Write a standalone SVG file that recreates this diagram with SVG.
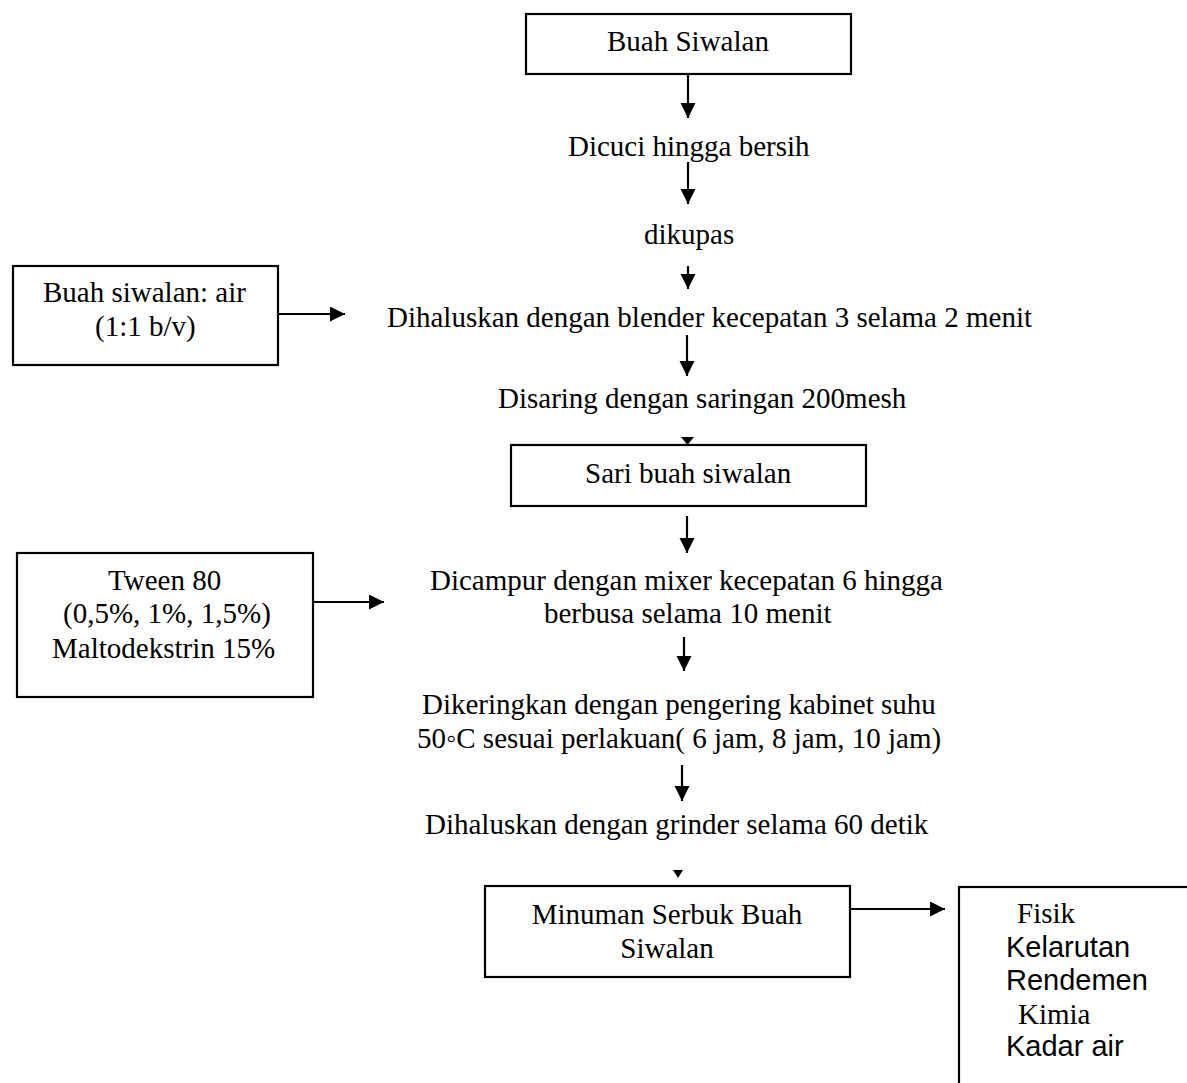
<svg xmlns="http://www.w3.org/2000/svg" width="1187" height="1083" viewBox="0 0 1187 1083">
<style>
.box{fill:#fff;stroke:#000;stroke-width:2.2}
.t{font-family:"Liberation Serif","Times New Roman",serif;font-size:29px;fill:#000}
.s{font-family:"Liberation Sans",Arial,sans-serif;font-size:29px;fill:#000}
.c{stroke:#000;stroke-width:2.2;fill:none}
.h{fill:#000;stroke:none}
</style>
<defs>
<marker id="ah" markerUnits="userSpaceOnUse" markerWidth="16" markerHeight="16" refX="15" refY="7.5" orient="auto">
<path d="M0,0 L15,7.5 L0,15 z" fill="#000"/>
</marker>
</defs>
<rect width="1187" height="1083" fill="#fff"/>

<g id="connectors">
<line class="c" x1="688" y1="74" x2="688" y2="118" marker-end="url(#ah)"/>
<line class="c" x1="688" y1="162" x2="688" y2="204" marker-end="url(#ah)"/>
<line class="c" x1="688" y1="266" x2="688" y2="289" marker-end="url(#ah)"/>
<line class="c" x1="278" y1="314" x2="345" y2="314" marker-end="url(#ah)"/>
<line class="c" x1="687" y1="335" x2="687" y2="376" marker-end="url(#ah)"/>
<polygon class="h" points="681,437 694,437 687.5,445"/>
<line class="c" x1="687" y1="516" x2="687" y2="553" marker-end="url(#ah)"/>
<line class="c" x1="309" y1="602" x2="384" y2="602" marker-end="url(#ah)"/>
<line class="c" x1="684" y1="637" x2="684" y2="671" marker-end="url(#ah)"/>
<line class="c" x1="682" y1="765" x2="682" y2="801" marker-end="url(#ah)"/>
<polygon class="h" points="673,870 683,870 678,878"/>
<line class="c" x1="850" y1="909" x2="945" y2="909" marker-end="url(#ah)"/>
</g>

<g id="n1">
<rect class="box" x="526" y="14" width="325" height="60"/>
<text class="t" x="607" y="51">Buah Siwalan</text>
</g>
<g id="n2"><text class="t" x="568" y="156">Dicuci hingga bersih</text></g>
<g id="n3"><text class="t" x="644" y="244">dikupas</text></g>
<g id="n4">
<rect class="box" x="13" y="266" width="265" height="99"/>
<text class="t" x="43" y="302">Buah siwalan: air</text>
<text class="t" x="95" y="336">(1:1 b/v)</text>
</g>
<g id="n5"><text class="t" x="387" y="327">Dihaluskan dengan blender kecepatan 3 selama 2 menit</text></g>
<g id="n6"><text class="t" x="498" y="408">Disaring dengan saringan 200mesh</text></g>
<g id="n7">
<rect class="box" x="511" y="445" width="355" height="61"/>
<text class="t" x="585" y="483">Sari buah siwalan</text>
</g>
<g id="n8">
<rect class="box" x="17" y="553" width="296" height="144"/>
<text class="t" x="108" y="590">Tween 80</text>
<text class="t" x="63" y="623">(0,5%, 1%, 1,5%)</text>
<text class="t" x="52" y="658">Maltodekstrin 15%</text>
</g>
<g id="n9">
<text class="t" x="430" y="590">Dicampur dengan mixer kecepatan 6 hingga</text>
<text class="t" x="544" y="623">berbusa selama 10 menit</text>
</g>
<g id="n10">
<text class="t" x="422" y="714">Dikeringkan dengan pengering kabinet suhu</text>
<text class="t" x="417" y="748">50◦C sesuai perlakuan( 6 jam, 8 jam, 10 jam)</text>
</g>
<g id="n11"><text class="t" x="425" y="834">Dihaluskan dengan grinder selama 60 detik</text></g>
<g id="n12">
<rect class="box" x="485" y="886" width="365" height="91"/>
<text class="t" x="667" y="924" text-anchor="middle">Minuman Serbuk Buah</text>
<text class="t" x="667" y="958" text-anchor="middle">Siwalan</text>
</g>
<g id="n13">
<rect class="box" x="959" y="887" width="300" height="300"/>
<text class="t" x="1017" y="923">Fisik</text>
<text class="s" x="1006" y="957">Kelarutan</text>
<text class="s" x="1006" y="990">Rendemen</text>
<text class="t" x="1018" y="1024">Kimia</text>
<text class="s" x="1006" y="1056">Kadar air</text>
</g>
</svg>
